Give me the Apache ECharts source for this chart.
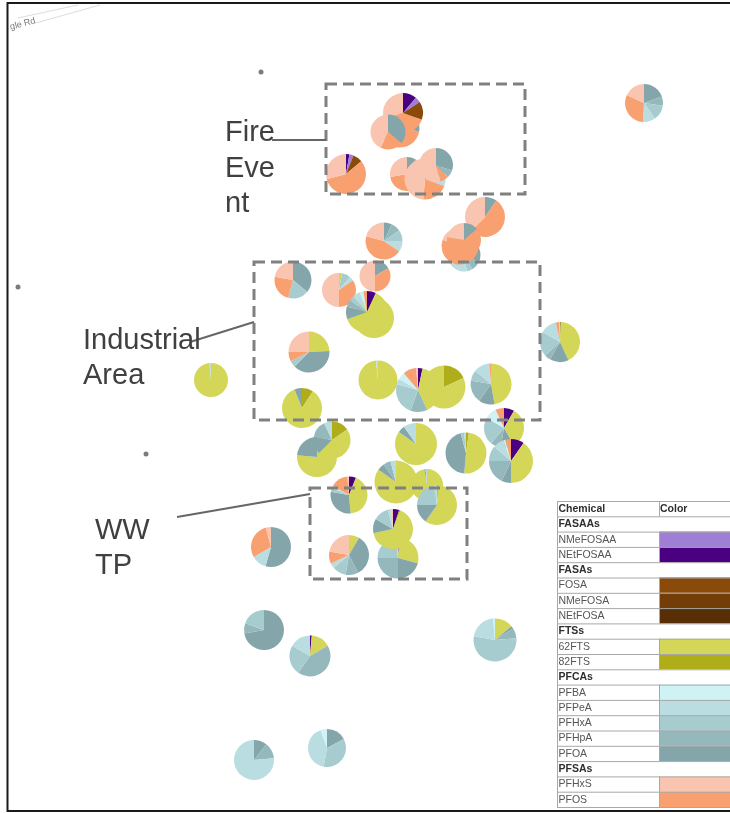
<!DOCTYPE html>
<html>
<head>
<meta charset="utf-8">
<style>
  html, body { margin: 0; padding: 0; background: #fff; }
  #main { width: 730px; height: 813px; }
</style>
</head>
<body>
<div id="main"></div>
<script src="https://cdn.jsdelivr.net/npm/echarts@6/dist/echarts.min.js"></script>
<script>
// slices go clockwise from 12 o'clock in this order
const chemicals = ['NEtFOSAA', 'NMeFOSAA', 'FOSA', 'NMeFOSA', 'NEtFOSA', '82FTS', '62FTS', 'PFOA', 'PFHpA', 'PFHxA', 'PFPeA', 'PFBA', 'PFOS', 'PFHxS']
const chemicalColors = ['#4b0082', '#9f7fd6', '#8a4a0a', '#733d08', '#572e05', '#b0ad1a', '#d3d656', '#84a6aa', '#95b8bc', '#a6cccf', '#b9dde0', '#cff2f4', '#f9a070', '#f9c4b0']

// sampling sites, back to front
const siteX = [400, 403, 388, 346, 407, 425, 436, 384, 464, 460, 485, 464, 644, 293, 339, 375, 374, 367, 309, 378, 302, 211, 560, 418, 444, 491, 504, 511, 466, 416, 317, 332, 427, 396, 437, 349, 398, 393, 349, 271, 264, 310, 495, 254, 327]
const siteY = [128, 113, 132, 174, 174, 179, 165, 241, 255, 246, 217, 240, 103, 280, 290, 276, 318, 312, 352, 380, 408, 380, 342, 390, 387, 384, 428, 461, 453, 444, 457, 440, 485, 482, 505, 495, 558, 529, 555, 547, 630, 656, 640, 760, 748]
const siteSize = [19.5, 20, 17.5, 20, 17, 20.5, 17, 18.5, 16.5, 18.5, 20, 17, 19, 18.5, 17, 15.5, 20, 21, 20.5, 19.5, 20, 17, 20, 22, 21.5, 20.5, 20, 22, 20.5, 21, 20, 18.5, 16, 21.5, 20, 18.5, 20.5, 20, 20, 20, 20, 20.5, 21.5, 20, 19]
const siteShares = [
  [0, 0, 0, 0, 0, 0, 0, 100, 0, 0, 0, 0, 150, 110],
  [40, 17, 53, 0, 0, 0, 0, 0, 0, 0, 0, 0, 145, 105],
  [0, 0, 0, 0, 0, 0, 0, 130, 0, 0, 0, 0, 75, 155],
  [10, 12, 28, 0, 0, 0, 0, 0, 0, 0, 0, 0, 205, 105],
  [0, 0, 0, 0, 0, 0, 0, 30, 0, 0, 0, 0, 230, 100],
  [0, 0, 0, 0, 0, 0, 0, 75, 0, 0, 35, 0, 75, 175],
  [0, 0, 0, 0, 0, 0, 0, 110, 25, 0, 0, 0, 30, 195],
  [0, 0, 0, 0, 0, 0, 0, 25, 30, 35, 35, 0, 160, 75],
  [0, 0, 0, 0, 0, 0, 0, 115, 35, 20, 70, 0, 60, 60],
  [0, 0, 0, 0, 0, 0, 0, 40, 0, 0, 0, 0, 250, 70],
  [0, 0, 0, 0, 0, 0, 0, 35, 0, 0, 0, 0, 190, 135],
  [0, 0, 0, 0, 0, 0, 0, 50, 0, 0, 0, 0, 230, 80],
  [0, 0, 0, 0, 0, 0, 0, 70, 28, 47, 38, 0, 112, 65],
  [0, 0, 0, 0, 0, 0, 0, 130, 0, 65, 0, 0, 85, 80],
  [0, 0, 0, 0, 0, 0, 10, 0, 0, 30, 15, 0, 125, 180],
  [0, 0, 0, 0, 0, 0, 0, 60, 0, 0, 0, 0, 120, 180],
  [0, 0, 0, 0, 0, 0, 360, 0, 0, 0, 0, 0, 0, 0],
  [25, 0, 0, 0, 0, 0, 225, 35, 20, 15, 20, 10, 10, 0],
  [0, 0, 0, 0, 0, 0, 87, 138, 0, 18, 0, 0, 27, 90],
  [0, 0, 0, 0, 0, 0, 354, 0, 0, 0, 6, 0, 0, 0],
  [0, 0, 0, 0, 0, 33, 305, 22, 0, 0, 0, 0, 0, 0],
  [0, 0, 0, 0, 0, 0, 355, 0, 0, 0, 5, 0, 0, 0],
  [0, 0, 0, 0, 2, 0, 153, 55, 18, 72, 48, 0, 10, 2],
  [12, 0, 0, 0, 0, 0, 143, 0, 45, 85, 15, 20, 35, 5],
  [0, 0, 0, 0, 0, 65, 295, 0, 0, 0, 0, 0, 0, 0],
  [0, 0, 0, 0, 0, 0, 170, 45, 65, 30, 45, 0, 5, 0],
  [30, 0, 0, 0, 0, 0, 120, 40, 30, 80, 0, 35, 25, 0],
  [35, 0, 0, 0, 0, 0, 145, 25, 65, 40, 30, 5, 15, 0],
  [0, 0, 0, 0, 0, 8, 177, 160, 0, 10, 5, 0, 0, 0],
  [0, 0, 0, 0, 0, 0, 305, 20, 0, 0, 35, 0, 0, 0],
  [0, 0, 0, 0, 0, 0, 275, 85, 0, 0, 0, 0, 0, 0],
  [0, 0, 0, 0, 0, 55, 170, 55, 55, 0, 25, 0, 0, 0],
  [0, 0, 0, 0, 0, 0, 350, 5, 0, 0, 5, 0, 0, 0],
  [0, 0, 0, 0, 0, 0, 305, 20, 20, 0, 15, 0, 0, 0],
  [0, 0, 0, 0, 0, 3, 212, 55, 0, 80, 10, 0, 0, 0],
  [22, 0, 0, 0, 0, 0, 153, 105, 0, 12, 8, 0, 55, 5],
  [4, 0, 0, 0, 0, 0, 101, 75, 90, 85, 0, 0, 0, 5],
  [18, 0, 0, 0, 0, 4, 236, 42, 0, 45, 10, 0, 0, 5],
  [0, 0, 0, 0, 0, 0, 30, 123, 37, 40, 15, 0, 35, 80],
  [0, 0, 0, 0, 0, 0, 0, 196, 0, 0, 44, 0, 105, 15],
  [0, 0, 0, 0, 0, 0, 0, 260, 30, 70, 0, 0, 0, 0],
  [5, 0, 0, 0, 0, 0, 55, 0, 155, 85, 60, 0, 0, 0],
  [0, 0, 0, 0, 0, 0, 50, 8, 27, 195, 75, 5, 0, 0],
  [0, 0, 0, 0, 0, 0, 0, 38, 47, 0, 275, 0, 0, 0],
  [0, 0, 0, 0, 0, 0, 0, 62, 0, 128, 150, 20, 0, 0]
]

// small dots on the map
const markerX = [261, 18, 146]
const markerY = [72, 287, 454]

// table on the lower right
const legendRows = ['Chemical', 'FASAAs', 'NMeFOSAA', 'NEtFOSAA', 'FASAs', 'FOSA', 'NMeFOSA', 'NEtFOSA', 'FTSs', '62FTS', '82FTS', 'PFCAs', 'PFBA', 'PFPeA', 'PFHxA', 'PFHpA', 'PFOA', 'PFSAs', 'PFHxS', 'PFOS']
const legendGroups = ['Chemical', 'FASAAs', 'FASAs', 'FTSs', 'PFCAs', 'PFSAs']

const chart = echarts.init(document.getElementById('main'), null, { renderer: 'canvas' })

const pieSeries = siteShares.map((shares, i) => ({
  type: 'pie',
  coordinateSystem: 'cartesian2d',
  center: [siteX[i], siteY[i]],
  radius: [0, siteSize[i]],
  startAngle: 90,
  clockwise: true,
  silent: true,
  animation: false,
  avoidLabelOverlap: false,
  label: { show: false },
  labelLine: { show: false },
  z: 3 + i * 0.01,
  data: shares.map((v, k) => ({
    name: chemicals[k],
    value: v,
    itemStyle: { color: chemicalColors[k] }
  }))
}))

const graphics = []

function line(x1, y1, x2, y2, stroke, width, z) {
  graphics.push({ type: 'line', z: z || 50, silent: true, shape: { x1, y1, x2, y2 }, style: { stroke, lineWidth: width } })
}
function dashBox(x, y, w, h) {
  graphics.push({
    type: 'rect', z: 50, silent: true, shape: { x, y, width: w, height: h },
    style: { fill: null, stroke: '#808080', lineWidth: 3, lineDash: [11, 6] }
  })
}
function note(x, y, text) {
  graphics.push({
    type: 'text', z: 51, silent: true, x, y,
    style: { text, fill: '#404040', font: '29px "Liberation Sans", Arial, sans-serif', lineHeight: 35.5 }
  })
}

// road in the corner
line(18, 18, 78, 5, '#dddddd', 1, 2)
line(32, 24, 100, 5, '#dddddd', 1, 2)
graphics.push({
  type: 'text', z: 5, silent: true, x: 9, y: 23, rotation: 15 * Math.PI / 180,
  style: { text: 'gle Rd', fill: '#777', font: '9px "Liberation Sans", Arial, sans-serif' }
})

dashBox(326, 84, 199, 110)
dashBox(254, 262, 286, 158)
dashBox(310, 488, 157, 91)
line(272, 140, 326, 140, '#666', 2)
line(190, 342, 254, 322, '#666', 2)
line(177, 517, 310, 494, '#666', 2)
note(225, 115.5, 'Fire\nEve\nnt')
note(83, 323, 'Industrial\nArea')
note(95, 513, 'WW\nTP')

// table
const rowH = 15.3
const tableTop = 501
legendRows.forEach((name, i) => {
  const y = tableTop + i * rowH
  const isGroup = legendGroups.indexOf(name) >= 0
  const k = chemicals.indexOf(name)
  if (k >= 0) {
    graphics.push({
      type: 'rect', z: 60, silent: true,
      shape: { x: 659.5, y, width: 72, height: rowH },
      style: { fill: chemicalColors[k] }
    })
    line(659.5, y, 659.5, y + rowH, '#a8a8a8', 1, 61)
  }
  graphics.push({
    type: 'text', z: 62, silent: true, x: 558.5, y: y + 2.6,
    style: {
      text: name, fill: isGroup ? '#2e2e2e' : '#555',
      font: (isGroup ? 'bold ' : '') + '10.5px "Liberation Sans", Arial, sans-serif'
    }
  })
  line(557, y + 0.5, 730, y + 0.5, '#a8a8a8', 1, 61)
})
graphics.push({ type: 'text', z: 62, silent: true, x: 660, y: tableTop + 2.6, style: { text: 'Color', fill: '#2e2e2e', font: 'bold 10.5px "Liberation Sans", Arial, sans-serif' } })
line(557, tableTop + 20 * rowH + 0.5, 730, tableTop + 20 * rowH + 0.5, '#a8a8a8', 1, 61)
line(557.5, tableTop, 557.5, tableTop + 20 * rowH, '#a8a8a8', 1, 61)
line(659.5, tableTop, 659.5, tableTop + rowH, '#a8a8a8', 1, 61)

// frame of the screenshot
graphics.push({
  type: 'rect', z: 70, silent: true, shape: { x: 7.5, y: 3, width: 730, height: 808 },
  style: { fill: null, stroke: '#1a1a1a', lineWidth: 2 }
})

chart.setOption({
  backgroundColor: '#fff',
  animation: false,
  grid: { left: 0, right: 0, top: 0, bottom: 0 },
  xAxis: { type: 'value', min: 0, max: 730, show: false },
  yAxis: { type: 'value', min: 0, max: 813, inverse: true, show: false },
  graphic: graphics,
  series: [{
    type: 'scatter',
    silent: true,
    symbolSize: 5,
    itemStyle: { color: '#5a5a5a' },
    data: markerX.map((x, i) => [x, markerY[i]])
  }].concat(pieSeries)
})
</script>
</body>
</html>
